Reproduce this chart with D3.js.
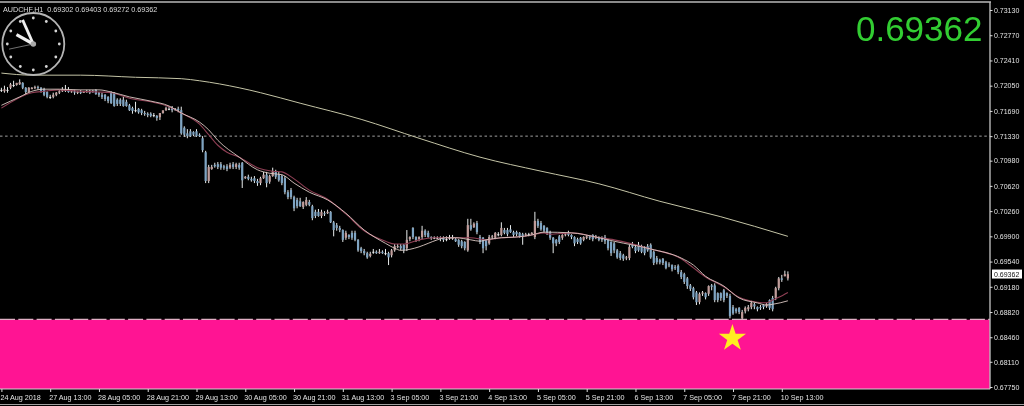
<!DOCTYPE html>
<html><head><meta charset="utf-8">
<script src="https://cdn.jsdelivr.net/npm/d3@7/dist/d3.min.js"></script>
<style>
html,body{margin:0;padding:0;background:#000;overflow:hidden}
svg{display:block;filter:blur(0.35px)}
text{font-family:"Liberation Sans",Arial,sans-serif}
</style></head><body>
<svg id="c" width="1024" height="406"></svg>
<script>
// All prices in pips (price × 10000)
const opens=[7199,7197,7199,7202,7206,7206,7207,7209,7202,7196,7200,7202,7203,7202,7200,7196,7189,7189,7192,7195,
7197,7199,7199,7196,7197,7195,7196,7195,7196,7197,7197,7199,7195,7192,7192,7189,7196,7195,7185,7185,
7185,7182,7177,7173,7170,7172,7170,7166,7165,7165,7163,7162,7160,7166,7170,7172,7173,7172,7172,7170,
7145,7137,7140,7139,7140,7135,7130,7110,7069,7086,7092,7093,7093,7090,7090,7088,7093,7089,7092,7095,
7073,7075,7072,7073,7069,7066,7073,7078,7068,7076,7082,7078,7076,7073,7053,7056,7046,7042,7040,7032,
7035,7039,7033,7025,7025,7019,7023,7023,7025,7010,7006,7002,6999,6988,6992,6995,6995,6985,6973,6969,
6966,6962,6968,6968,6966,6968,6966,6966,6963,6970,6975,6976,6978,6973,6986,7002,6989,6986,6989,6998,
6995,6989,6988,6988,6988,6988,6986,6988,6988,6986,6985,6983,6982,6970,7006,7003,7009,6989,6988,6985,
6980,6989,6988,6993,6992,6999,6999,7000,6996,6996,6995,6993,6992,6993,6993,6989,7012,7009,7005,7002,
6996,6988,6985,6990,6988,6992,6995,6992,6989,6986,6988,6985,6988,6990,6992,6988,6989,6988,6989,6985,
6982,6980,6970,6966,6963,6959,6959,6978,6975,6978,6975,6973,6976,6978,6968,6959,6956,6958,6953,6950,
6949,6946,6948,6939,6936,6930,6920,6916,6910,6896,6908,6909,6908,6920,6920,6909,6909,6913,6909,6905,
6889,6886,6888,6873,6883,6886,6889,6893,6889,6889,6892,6890,6899,6902,6902,6916,6930,6933,6930];
const closes=[7199,7200,7199,7207,7206,7209,7210,7202,7196,7202,7202,7203,7202,7197,7192,7189,7189,7192,7195,7197,
7199,7199,7196,7197,7195,7196,7195,7196,7197,7195,7196,7193,7192,7189,7186,7183,7180,7176,7179,7179,
7176,7176,7170,7169,7170,7167,7166,7165,7163,7162,7163,7159,7166,7170,7173,7172,7170,7172,7170,7137,
7135,7133,7133,7135,7133,7133,7113,7069,7089,7089,7090,7089,7088,7088,7086,7092,7089,7093,7088,7070,
7075,7072,7070,7069,7066,7073,7078,7066,7076,7083,7075,7070,7066,7053,7046,7046,7030,7033,7033,7039,
7042,7035,7016,7019,7019,7025,7022,7025,7010,6999,7002,6999,6985,6995,6989,6988,6985,6970,6969,6966,
6960,6965,6968,6966,6968,6966,6966,6960,6970,6976,6976,6973,6970,6985,6989,6989,6985,6989,6998,6992,
6989,6988,6988,6988,6986,6985,6986,6988,6988,6983,6978,6976,6973,7006,7000,7008,6996,6982,6973,6976,
6989,6990,6995,6993,7002,6995,6993,6996,6992,6993,6990,6990,6993,6993,6995,7012,7005,7000,6998,6995,
6988,6980,6980,6982,6992,6993,6992,6989,6980,6982,6980,6989,6990,6988,6986,6990,6985,6985,6983,6973,
6966,6970,6960,6959,6958,6960,6975,6975,6969,6970,6968,6966,6970,6960,6952,6953,6953,6952,6945,6949,
6943,6945,6939,6932,6925,6919,6915,6903,6896,6908,6910,6903,6919,6918,6899,6899,6902,6899,6905,6876,
6880,6883,6882,6882,6888,6889,6895,6890,6886,6888,6889,6893,6888,6886,6916,6930,6928,6936,6936];
const highs=[7202,7205,7203,7209,7212,7209,7214,7210,7203,7203,7203,7205,7205,7203,7202,7197,7192,7195,7196,7199,
7203,7206,7203,7199,7199,7197,7199,7197,7199,7199,7199,7200,7196,7195,7193,7190,7197,7196,7187,7187,
7189,7185,7179,7175,7182,7173,7172,7169,7167,7167,7166,7163,7162,7169,7175,7175,7176,7173,7175,7175,
7147,7143,7143,7140,7143,7137,7133,7112,7092,7092,7095,7096,7096,7092,7093,7095,7096,7095,7095,7096,
7076,7078,7075,7076,7072,7075,7082,7082,7078,7088,7085,7082,7078,7076,7056,7059,7048,7045,7045,7040,
7046,7042,7035,7028,7029,7028,7026,7028,7026,7012,7009,7005,7000,6998,6993,6998,6998,6986,6975,6972,
6968,6968,6972,6970,6972,6970,6972,6968,6972,6979,6979,6979,6979,6999,6990,7003,6990,6990,7005,7000,
6998,6990,6990,6990,6990,6990,6990,6992,6992,6988,6986,6985,6983,7015,7015,7010,7012,6992,6989,6986,
6992,6992,6996,6996,7010,7002,7002,7006,6998,6998,6996,6995,6995,6995,6996,7025,7015,7012,7006,7003,
6998,6989,6986,6992,6993,6995,6998,6993,6990,6988,6989,6990,6992,6992,6993,6992,6990,6990,6992,6986,
6983,6982,6972,6969,6965,6962,6978,6982,6978,6982,6978,6976,6979,6980,6970,6962,6958,6959,6955,6953,
6950,6949,6950,6942,6938,6932,6922,6918,6912,6910,6912,6910,6920,6922,6923,6910,6910,6915,6910,6908,
6892,6888,6889,6885,6890,6892,6898,6895,6890,6892,6893,6895,6900,6905,6918,6932,6935,6941,6940];
const lows=[7196,7195,7195,7200,7203,7205,7206,7200,7192,7195,7200,7200,7199,7195,7190,7187,7186,7187,7190,7193,
7196,7196,7195,7195,7192,7193,7193,7195,7195,7193,7195,7192,7189,7186,7183,7180,7179,7175,7176,7176,
7175,7175,7169,7165,7167,7165,7163,7162,7160,7160,7160,7155,7156,7165,7169,7170,7167,7169,7167,7135,
7132,7130,7132,7133,7132,7132,7110,7066,7066,7085,7088,7086,7085,7085,7083,7086,7086,7086,7085,7059,
7072,7070,7068,7066,7062,7063,7072,7060,7065,7075,7072,7068,7063,7050,7043,7043,7026,7030,7032,7029,
7033,7033,7013,7016,7018,7016,7019,7022,7009,6990,6998,6996,6982,6985,6986,6985,6983,6968,6966,6963,
6958,6960,6965,6965,6965,6965,6963,6949,6960,6968,6973,6970,6966,6969,6983,6986,6982,6983,6986,6989,
6988,6985,6986,6986,6983,6982,6983,6985,6985,6982,6975,6973,6970,6968,6998,7002,6993,6979,6966,6970,
6978,6986,6986,6990,6990,6993,6990,6995,6989,6990,6988,6978,6990,6990,6992,6986,7002,6998,6995,6992,
6985,6966,6976,6979,6985,6990,6990,6986,6976,6979,6978,6983,6986,6985,6983,6986,6983,6982,6979,6970,
6962,6966,6958,6956,6955,6956,6956,6973,6966,6968,6966,6963,6968,6958,6949,6950,6950,6949,6943,6946,
6940,6942,6936,6929,6922,6915,6912,6900,6892,6893,6905,6900,6905,6913,6896,6896,6898,6896,6902,6873,
6878,6880,6879,6868,6880,6883,6886,6886,6883,6885,6886,6888,6885,6883,6899,6913,6925,6933,6927];

// moving averages, read at selected bars
const longMaBars=[0,10,26,44,59,65,78,85,98,118,137,157,177,196,216,236,258];
const longMaVals=[7223,7220,7220,7217,7215,7212,7202,7195,7180,7157,7130,7103,7083,7065,7040,7018,6990];
const lightMaBars=[0,3,6,10,14,19,26,32,36,42,49,55,59,65,68,71,78,84,88,92,96,101,107,113,119,126,129,131,137,140,143,146,149,154,157,159,164,169,174,178,187,195,201,213,223,227,231,237,242,248,251,253,258];
const lightMaVals=[7177,7183,7189,7197,7200,7200,7199,7199,7196,7189,7183,7176,7166,7153,7142,7127,7103,7085,7080,7078,7066,7053,7042,7023,6999,6980,6973,6970,6975,6980,6985,6988,6988,6985,6983,6985,6988,6989,6992,6996,6995,6989,6983,6972,6959,6949,6933,6919,6902,6895,6892,6893,6898];
const redMaBars=[0,10,14,19,26,32,36,42,49,55,59,65,68,71,74,78,84,89,92,96,101,107,113,119,126,129,132,137,142,149,154,159,164,169,174,178,180,187,195,201,213,223,227,231,237,242,248,251,253,255,258];
const redMaVals=[7173,7195,7197,7199,7197,7196,7195,7187,7182,7175,7166,7150,7135,7120,7110,7103,7088,7083,7082,7072,7056,7043,7022,6998,6983,6979,6979,6985,6988,6988,6988,6985,6988,6989,6992,6995,6993,6995,6989,6985,6972,6958,6945,6932,6918,6903,6896,6895,6899,6903,6910];

const priceTicks=[0.7313,0.7277,0.7241,0.7205,0.7169,0.7133,0.7098,0.7062,0.7026,0.6990,0.6954,0.6918,0.6882,0.6846,0.6811,0.6775];
const timeTickBars=[0,16,32,48,64,80,96,112,128,144,160,176,192,208,224,240,256];
const timeLabels=["24 Aug 2018","27 Aug 13:00","28 Aug 05:00","28 Aug 21:00","29 Aug 13:00","30 Aug 05:00","30 Aug 21:00","31 Aug 13:00","3 Sep 05:00","3 Sep 21:00","4 Sep 13:00","5 Sep 05:00","5 Sep 21:00","6 Sep 13:00","7 Sep 05:00","7 Sep 21:00","10 Sep 13:00"];
const symbolTitle="AUDCHF,H1  0.69302 0.69403 0.69272 0.69362";
const lastPrice=0.69362;
const levelPrice=0.7133;
const supportPrice=0.6871;
const starBar=240, starPrice=0.6846;
const clockHours=d3.range(12);
const clockHands=[{deg:299,len:0.62,w:3.2},{deg:336,len:0.85,w:2.8},{deg:258,len:0.80,w:0.7}];

const svg=d3.select("#c");
const fr={l:0,r:990,t:2,b:389};
const x=d3.scaleLinear().domain([0,258]).range([1.4,787.9]);
const y=d3.scaleLinear().domain([0.7313,0.6775]).range([10,387]);
const py=p=>y(p/10000);

svg.append("rect").attr("width",1024).attr("height",406).attr("fill","#000");

// level line
svg.append("line").attr("x1",fr.l).attr("x2",fr.r).attr("y1",y(levelPrice)).attr("y2",y(levelPrice))
  .attr("stroke","#b4b4b4").attr("stroke-width",0.9).attr("stroke-dasharray","2.5,2.6");

// candles
const bars=d3.range(opens.length).map(i=>({i,o:opens[i],h:highs[i],l:lows[i],c:closes[i]}));
const g=svg.append("g");
g.selectAll("line.w").data(bars).join("line").attr("class","w")
  .attr("x1",d=>x(d.i)).attr("x2",d=>x(d.i)).attr("y1",d=>py(d.h)).attr("y2",d=>py(d.l))
  .attr("stroke","#e8ecec").attr("stroke-width",1);
g.selectAll("rect.b").data(bars).join("rect").attr("class","b")
  .attr("x",d=>x(d.i)-1.1).attr("width",2.2)
  .attr("y",d=>Math.min(py(d.o),py(d.c))).attr("height",d=>Math.max(1,Math.abs(py(d.o)-py(d.c))))
  .attr("fill",d=>d.c>d.o?"#c09c9a":d.c<d.o?"#7fa4c2":"#ececec");

// moving averages
const lineOf=(bs,vs)=>d3.line().x((d,i)=>x(bs[i])).y(d=>py(d)).curve(d3.curveMonotoneX)(vs);
svg.append("path").attr("d",lineOf(longMaBars,longMaVals)).attr("fill","none").attr("stroke","#c4c4a6").attr("stroke-width",1);
svg.append("path").attr("d",lineOf(redMaBars,redMaVals)).attr("fill","none").attr("stroke","#8f3f54").attr("stroke-width",1.1);
svg.append("path").attr("d",lineOf(lightMaBars,lightMaVals)).attr("fill","none").attr("stroke","#dccac4").attr("stroke-width",0.9);

// support zone
svg.append("rect").attr("x",fr.l).attr("width",fr.r-fr.l).attr("y",y(supportPrice)).attr("height",fr.b-y(supportPrice)).attr("fill","#ff1493");
svg.append("line").attr("x1",fr.l).attr("x2",fr.r).attr("y1",y(supportPrice)-0.3).attr("y2",y(supportPrice)-0.3)
  .attr("stroke","#e0b0c4").attr("stroke-width",1.2).attr("stroke-dasharray","15,3.3");

// star
svg.append("path").attr("d",d3.symbol(d3.symbolStar,230)())
  .attr("transform",`translate(${x(starBar)-0.6},${y(starPrice)+1})`).attr("fill","#ffee22");

// frame
svg.append("line").attr("x1",0).attr("x2",fr.r+1).attr("y1",fr.t).attr("y2",fr.t).attr("stroke","#b8b8b8").attr("stroke-width",1.6);
svg.append("line").attr("x1",fr.r).attr("x2",fr.r).attr("y1",fr.t).attr("y2",fr.b).attr("stroke","#b8b8b8").attr("stroke-width",1.4);
svg.append("line").attr("x1",0).attr("x2",fr.r).attr("y1",fr.b).attr("y2",fr.b).attr("stroke","#d0d0d0").attr("stroke-width",1);
svg.append("line").attr("x1",0).attr("x2",1024).attr("y1",404.5).attr("y2",404.5).attr("stroke","#a0a0a0").attr("stroke-width",1);

// axes
const ay=svg.append("g").attr("transform",`translate(${fr.r},0)`)
  .call(d3.axisRight(y).tickValues(priceTicks).tickFormat(d3.format(".5f")).tickSize(2.5).tickPadding(1.5));
ay.select(".domain").remove();
ay.selectAll("line").attr("stroke","#ddd");
ay.selectAll("text").attr("fill","#e2e2e2").attr("font-size",7);
const ax=svg.append("g").attr("transform",`translate(0,${fr.b})`)
  .call(d3.axisBottom(x).tickValues(timeTickBars).tickFormat((d,i)=>timeLabels[i]).tickSize(3).tickPadding(3));
ax.select(".domain").remove();
ax.selectAll("line").attr("stroke","#ddd");
ax.selectAll("text").attr("fill","#e2e2e2").attr("font-size",7.2).attr("text-anchor","start").attr("dx",-1.5);

// last price tag
const tag=svg.append("g");
tag.append("rect").attr("x",992).attr("y",y(lastPrice)-4.5).attr("width",30).attr("height",9).attr("fill","#fff");
tag.append("text").attr("x",994).attr("y",y(lastPrice)+2.6).attr("font-size",7).attr("fill","#111").text(d3.format(".5f")(lastPrice));

// title and big price
svg.append("text").attr("x",3).attr("y",11.5).attr("font-size",7.2).attr("fill","#dcdcdc").attr("xml:space","preserve").style("white-space","pre").text(symbolTitle);
svg.append("text").attr("x",982.5).attr("y",40.5).attr("text-anchor","end").attr("font-size",35).attr("fill","#32cd32").text(d3.format(".5f")(lastPrice));

// clock
const cx=33.3,cy=44,R=31;
const clock=svg.append("g").attr("transform",`translate(${cx},${cy})`);
clock.append("circle").attr("r",R).attr("fill","#000").attr("stroke","#b4b4b4").attr("stroke-width",1.8);
clock.selectAll("circle.h").data(clockHours).join("circle").attr("class","h").attr("r",1.4).attr("fill","#d4d4d4")
  .attr("cx",d=>26*Math.sin(d*Math.PI/6)).attr("cy",d=>-26*Math.cos(d*Math.PI/6));
clock.selectAll("line.n").data(clockHands).join("line").attr("class","n")
  .attr("x2",d=>R*d.len*Math.sin(d.deg*Math.PI/180)).attr("y2",d=>-R*d.len*Math.cos(d.deg*Math.PI/180))
  .attr("stroke",d=>d.w<1?"#a0a0a0":"#f0f0f0").attr("stroke-width",d=>d.w);
clock.append("circle").attr("r",2.8).attr("fill","#a8a8a8");
</script></body></html>
